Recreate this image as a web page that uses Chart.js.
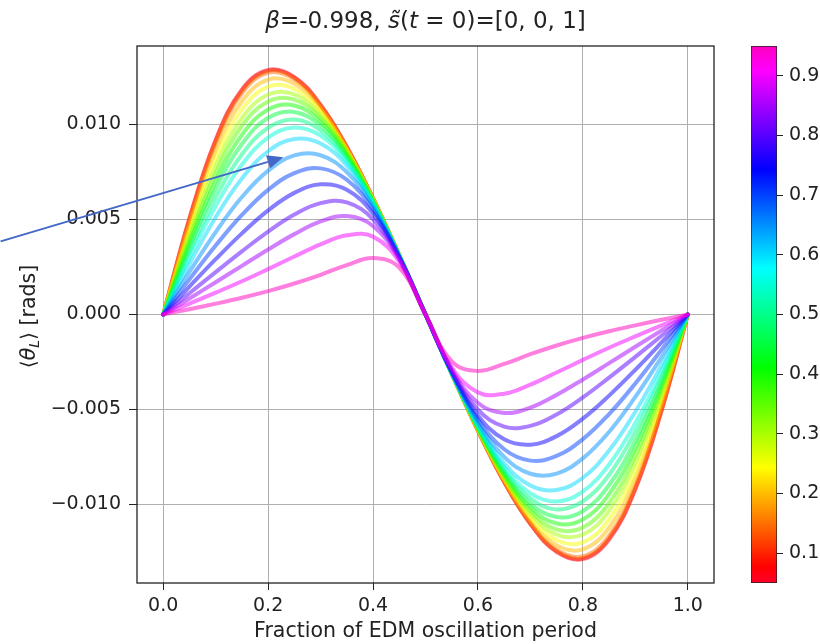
<!DOCTYPE html>
<html>
<head>
<meta charset="utf-8">
<script src="https://cdn.jsdelivr.net/npm/chart.js@4.4.1/dist/chart.umd.min.js"></script>
<style>
  html, body { margin: 0; padding: 0; background: #fff; }
  #wrap { position: relative; width: 820px; height: 644px; overflow: hidden; }
  #main { position: absolute; left: 0; top: 0; }
  #cbar { position: absolute; left: 751px; top: 0; }
</style>
</head>
<body>
<div id="wrap">
  <canvas id="main" width="820" height="644"></canvas>
  <canvas id="cbar" width="69" height="644"></canvas>
</div>
<script>
// x positions (fraction of EDM oscillation period)
var fractions = [0, 0.05, 0.1, 0.15, 0.2, 0.25, 0.3, 0.35, 0.4, 0.45, 0.5,
                 0.55, 0.6, 0.65, 0.7, 0.75, 0.8, 0.85, 0.9, 0.95, 1.0];

// colour parameter of each curve (colorbar value)
var spinValues = [0.05, 0.10, 0.15, 0.20, 0.25, 0.30, 0.35, 0.40, 0.45, 0.50,
                  0.55, 0.60, 0.65, 0.70, 0.75, 0.80, 0.85, 0.90, 0.95];

// <theta_L> [rads], one row per colour value
var curves = [
  [0, 0.00506, 0.00920, 0.01184, 0.01287, 0.01249, 0.01103, 0.00882, 0.00611, 0.00312, 0, -0.00312, -0.00611, -0.00882, -0.01103, -0.01249, -0.01287, -0.01184, -0.00920, -0.00506, 0],
  [0, 0.00503, 0.00914, 0.01178, 0.01283, 0.01246, 0.01101, 0.00881, 0.00611, 0.00312, 0, -0.00312, -0.00611, -0.00881, -0.01101, -0.01246, -0.01283, -0.01178, -0.00914, -0.00503, 0],
  [0, 0.00494, 0.00900, 0.01164, 0.01272, 0.01238, 0.01097, 0.00879, 0.00611, 0.00312, 0, -0.00312, -0.00611, -0.00879, -0.01097, -0.01238, -0.01272, -0.01164, -0.00900, -0.00494, 0],
  [0, 0.00470, 0.00862, 0.01122, 0.01236, 0.01214, 0.01083, 0.00872, 0.00609, 0.00312, 0, -0.00312, -0.00609, -0.00872, -0.01083, -0.01214, -0.01236, -0.01122, -0.00862, -0.00470, 0],
  [0, 0.00445, 0.00822, 0.01079, 0.01199, 0.01187, 0.01067, 0.00865, 0.00606, 0.00311, 0, -0.00311, -0.00606, -0.00865, -0.01067, -0.01187, -0.01199, -0.01079, -0.00822, -0.00445, 0],
  [0, 0.00421, 0.00781, 0.01033, 0.01158, 0.01158, 0.01050, 0.00857, 0.00604, 0.00311, 0, -0.00311, -0.00604, -0.00857, -0.01050, -0.01158, -0.01158, -0.01033, -0.00781, -0.00421, 0],
  [0, 0.00399, 0.00744, 0.00992, 0.01121, 0.01131, 0.01034, 0.00850, 0.00601, 0.00311, 0, -0.00311, -0.00601, -0.00850, -0.01034, -0.01131, -0.01121, -0.00992, -0.00744, -0.00399, 0],
  [0, 0.00375, 0.00703, 0.00945, 0.01079, 0.01100, 0.01015, 0.00840, 0.00598, 0.00310, 0, -0.00310, -0.00598, -0.00840, -0.01015, -0.01100, -0.01079, -0.00945, -0.00703, -0.00375, 0],
  [0, 0.00351, 0.00662, 0.00897, 0.01035, 0.01066, 0.00993, 0.00830, 0.00595, 0.00310, 0, -0.00310, -0.00595, -0.00830, -0.00993, -0.01066, -0.01035, -0.00897, -0.00662, -0.00351, 0],
  [0, 0.00325, 0.00616, 0.00843, 0.00983, 0.01026, 0.00968, 0.00818, 0.00591, 0.00309, 0, -0.00309, -0.00591, -0.00818, -0.00968, -0.01026, -0.00983, -0.00843, -0.00616, -0.00325, 0],
  [0, 0.00299, 0.00571, 0.00789, 0.00931, 0.00984, 0.00941, 0.00804, 0.00586, 0.00309, 0, -0.00309, -0.00586, -0.00804, -0.00941, -0.00984, -0.00931, -0.00789, -0.00571, -0.00299, 0],
  [0, 0.00266, 0.00512, 0.00716, 0.00859, 0.00924, 0.00900, 0.00783, 0.00579, 0.00308, 0, -0.00308, -0.00579, -0.00783, -0.00900, -0.00924, -0.00859, -0.00716, -0.00512, -0.00266, 0],
  [0, 0.00224, 0.00434, 0.00618, 0.00757, 0.00837, 0.00838, 0.00749, 0.00567, 0.00306, 0, -0.00306, -0.00567, -0.00749, -0.00838, -0.00837, -0.00757, -0.00618, -0.00434, -0.00224, 0],
  [0, 0.00185, 0.00363, 0.00524, 0.00656, 0.00744, 0.00769, 0.00709, 0.00552, 0.00304, 0, -0.00304, -0.00552, -0.00709, -0.00769, -0.00744, -0.00656, -0.00524, -0.00363, -0.00185, 0],
  [0, 0.00147, 0.00291, 0.00427, 0.00548, 0.00640, 0.00685, 0.00657, 0.00531, 0.00301, 0, -0.00301, -0.00531, -0.00657, -0.00685, -0.00640, -0.00548, -0.00427, -0.00291, -0.00147, 0],
  [0, 0.00112, 0.00223, 0.00332, 0.00436, 0.00526, 0.00586, 0.00590, 0.00501, 0.00296, 0, -0.00296, -0.00501, -0.00590, -0.00586, -0.00526, -0.00436, -0.00332, -0.00223, -0.00112, 0],
  [0, 0.00084, 0.00170, 0.00256, 0.00342, 0.00423, 0.00490, 0.00518, 0.00466, 0.00290, 0, -0.00290, -0.00466, -0.00518, -0.00490, -0.00423, -0.00342, -0.00256, -0.00170, -0.00084, 0],
  [0, 0.00057, 0.00115, 0.00175, 0.00239, 0.00305, 0.00369, 0.00417, 0.00410, 0.00278, 0, -0.00278, -0.00410, -0.00417, -0.00369, -0.00305, -0.00239, -0.00175, -0.00115, -0.00057, 0],
  [0, 0.00028, 0.00057, 0.00088, 0.00123, 0.00163, 0.00209, 0.00260, 0.00297, 0.00247, 0, -0.00247, -0.00297, -0.00260, -0.00209, -0.00163, -0.00123, -0.00088, -0.00057, -0.00028, 0]
];

var xTicks = [0, 0.2, 0.4, 0.6, 0.8, 1.0];
var yTicks = [-0.01, -0.005, 0, 0.005, 0.01];
var cbarTicks = [0.1, 0.2, 0.3, 0.4, 0.5, 0.6, 0.7, 0.8, 0.9];
var vmin = 0.05, vmax = 0.95;

// annotation arrow, in data coordinates
var arrowTail = { x: -0.31, y: 0.00385 };
var arrowHead = { x: 0.229, y: 0.00827 };

// gist_rainbow colormap
var cmapPos = [0, 0.03, 0.215, 0.4, 0.586, 0.77, 0.954, 1];
var cmapRGB = [[255,0,41],[255,0,0],[255,255,0],[0,255,0],[0,255,255],[0,0,255],[255,0,255],[255,0,191]];

function cmap(t) {
  t = Math.max(0, Math.min(1, t));
  for (var i = 1; i < cmapPos.length; i++) {
    if (t <= cmapPos[i]) {
      var f = (t - cmapPos[i-1]) / (cmapPos[i] - cmapPos[i-1]);
      var a = cmapRGB[i-1], b = cmapRGB[i];
      return [0,1,2].map(function(k){ return Math.round(a[k] + (b[k]-a[k]) * f); });
    }
  }
  return cmapRGB[cmapRGB.length-1];
}

var FONT = "'DejaVu Sans'";
var TXT = '#222';

var datasets = curves.map(function(ys, i) {
  var c = cmap((spinValues[i] - vmin) / (vmax - vmin));
  return {
    data: fractions.map(function(x, j){ return { x: x, y: ys[j] }; }),
    borderColor: 'rgba(' + c[0] + ',' + c[1] + ',' + c[2] + ',0.5)',
    borderWidth: 4,
    borderCapStyle: 'round',
    pointRadius: 0,
    tension: 0.4,
    fill: false,
    order: curves.length - i
  };
});

function drawSegments(ctx, segs, cx, cy) {
  var total = 0;
  segs.forEach(function(s){ ctx.font = s.font; total += ctx.measureText(s.t).width; });
  var x = cx - total / 2;
  segs.forEach(function(s){
    ctx.font = s.font;
    ctx.fillText(s.t, x, cy + (s.dy || 0));
    x += ctx.measureText(s.t).width;
  });
}

var decorations = {
  id: 'decorations',
  afterDatasetsDraw: function(chart) {
    var a = chart.chartArea, ctx = chart.ctx;
    ctx.save();
    ctx.strokeStyle = TXT;
    ctx.lineWidth = 1.3;
    ctx.strokeRect(a.left, a.top, a.right - a.left, a.bottom - a.top);
    ctx.restore();
  },
  afterDraw: function(chart) {
    var a = chart.chartArea, ctx = chart.ctx;
    var xs = chart.scales.x, ys = chart.scales.y;
    ctx.save();
    ctx.fillStyle = TXT;
    ctx.textBaseline = 'alphabetic';
    // title
    var n = '23px ' + FONT, it = 'italic 23px ' + FONT;
    drawSegments(ctx, [
      { t: '\u03B2', font: it }, { t: '=-0.998, ', font: n },
      { t: 's\u0303', font: it }, { t: '(', font: n }, { t: 't', font: it },
      { t: ' = 0)=[0, 0, 1]', font: n }
    ], (a.left + a.right) / 2, 28);
    // y label
    ctx.translate(35, (a.top + a.bottom) / 2 + 2);
    ctx.rotate(-Math.PI / 2);
    drawSegments(ctx, [
      { t: '\u27E8', font: '20.5px ' + FONT }, { t: '\u03B8', font: 'italic 20.5px ' + FONT },
      { t: 'L', font: 'italic 14px ' + FONT, dy: 4 }, { t: '\u27E9 [rads]', font: '20.5px ' + FONT }
    ], 0, 0);
    ctx.restore();

    // arrow
    var x0 = xs.getPixelForValue(arrowTail.x), y0 = ys.getPixelForValue(arrowTail.y);
    var x1 = xs.getPixelForValue(arrowHead.x), y1 = ys.getPixelForValue(arrowHead.y);
    var ang = Math.atan2(y1 - y0, x1 - x0), hl = 16, hw = 7;
    var bx = x1 - hl * Math.cos(ang), by = y1 - hl * Math.sin(ang);
    ctx.save();
    ctx.strokeStyle = '#4468C8';
    ctx.fillStyle = '#4468C8';
    ctx.lineWidth = 2;
    ctx.beginPath(); ctx.moveTo(x0, y0); ctx.lineTo(bx, by); ctx.stroke();
    ctx.beginPath();
    ctx.moveTo(x1, y1);
    ctx.lineTo(bx + hw * Math.sin(ang), by - hw * Math.cos(ang));
    ctx.lineTo(bx - hw * Math.sin(ang), by + hw * Math.cos(ang));
    ctx.closePath(); ctx.fill();
    ctx.restore();
  }
};

new Chart(document.getElementById('main').getContext('2d'), {
  type: 'line',
  data: { datasets: datasets },
  options: {
    responsive: false,
    animation: false,
    devicePixelRatio: 1,
    layout: { padding: { top: 46, right: 106, left: 0, bottom: 0 } },
    plugins: { legend: { display: false }, tooltip: { enabled: false }, title: { display: false } },
    scales: {
      x: {
        type: 'linear', min: -0.05, max: 1.05,
        afterBuildTicks: function(s){ s.ticks = xTicks.map(function(v){ return { value: v }; }); },
        afterFit: function(s){ s.height = 61; },
        ticks: { callback: function(v){ return v.toFixed(1); }, font: { family: FONT, size: 19 }, color: TXT, padding: 5, maxRotation: 0, autoSkip: false },
        grid: { color: '#b0b0b0', lineWidth: 1, tickColor: TXT, tickLength: 7 },
        border: { display: false },
        title: { display: true, text: 'Fraction of EDM oscillation period', font: { family: FONT, size: 20.5 }, color: TXT, padding: { top: 0, bottom: 0 } }
      },
      y: {
        type: 'linear', min: -0.01413, max: 0.01413,
        afterBuildTicks: function(s){ s.ticks = yTicks.map(function(v){ return { value: v }; }); },
        afterFit: function(s){ s.width = 137; },
        ticks: { callback: function(v){ return (v < 0 ? '\u2212' : '') + Math.abs(v).toFixed(3); }, font: { family: FONT, size: 19 }, color: TXT, padding: 8, autoSkip: false },
        grid: { color: '#b0b0b0', lineWidth: 1, tickColor: TXT, tickLength: 8 },
        border: { display: false }
      }
    }
  },
  plugins: [decorations]
});

// colorbar
new Chart(document.getElementById('cbar').getContext('2d'), {
  type: 'bar',
  data: {
    labels: [''],
    datasets: [{
      data: [[vmin, vmax]],
      backgroundColor: function(c) {
        var ch = c.chart;
        if (!ch.chartArea) return '#fff';
        var y = ch.scales.y;
        var g = ch.ctx.createLinearGradient(0, y.getPixelForValue(vmin), 0, y.getPixelForValue(vmax));
        cmapPos.forEach(function(p, i){ var q = cmapRGB[i]; g.addColorStop(p, 'rgb(' + q[0] + ',' + q[1] + ',' + q[2] + ')'); });
        return g;
      },
      borderColor: TXT, borderWidth: 1, borderSkipped: false,
      barPercentage: 1, categoryPercentage: 1
    }]
  },
  options: {
    responsive: false,
    animation: false,
    devicePixelRatio: 1,
    layout: { padding: { top: 46, bottom: 61, left: 0, right: 0 } },
    plugins: { legend: { display: false }, tooltip: { enabled: false } },
    scales: {
      x: { display: false },
      y: {
        position: 'right', min: vmin, max: vmax,
        afterBuildTicks: function(s){ s.ticks = cbarTicks.map(function(v){ return { value: v }; }); },
        afterFit: function(s){ s.width = 43; },
        ticks: { callback: function(v){ return v.toFixed(1); }, font: { family: FONT, size: 19 }, color: TXT, padding: 6, autoSkip: false },
        grid: { drawOnChartArea: false, tickColor: TXT, tickLength: 6 },
        border: { display: false }
      }
    }
  }
});
</script>
</body>
</html>
